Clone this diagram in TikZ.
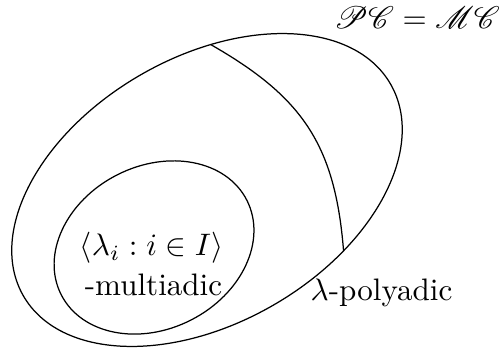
\documentclass[tikz,border=0pt]{standalone}
\usepackage{amsmath,amsfonts,amssymb}
\usepackage{mathrsfs}
\usepackage{tikz}
\usetikzlibrary{calc}

\begin{document}
\begin{tikzpicture}[lbl/.style={inner sep=0pt, anchor=base}]

    \useasboundingbox (0,0) rectangle (5.689,3.936);

    % --- Outer class (big ellipse) ---
    \begin{scope}[shift={(2.341,1.787)}, rotate=30]
        \draw (0,0) ellipse (2.397 and 1.503);
        \coordinate (PC-top) at (69:2.397 and 1.503);
        \coordinate (PC-bot) at (-65.5:2.397 and 1.503);
    \end{scope}

    % --- Inner class (small ellipse) ---
    \begin{scope}[shift={(1.742,1.137)}, rotate=27]
        \draw (0,0) ellipse (1.178 and 0.921);
    \end{scope}

    % --- Dividing curve ---
    \draw (PC-top) .. controls (3.42,2.84) and (3.79,2.30) .. (PC-bot);

    % --- Labels ---
    \node[lbl] (PCeqMC) at (4.716,3.619) {$\mathscr{PC}=\mathscr{MC}$};
    \node[lbl] (multi-top) at (1.713,1.041) {$\langle\lambda_i : i\in I\rangle$};
    \node[lbl] (multi-bot) at (1.736,0.599) {-multiadic};
    \node[lbl] (poly) at (4.315,0.537) {$\lambda$-polyadic};

\end{tikzpicture}
\end{document}
